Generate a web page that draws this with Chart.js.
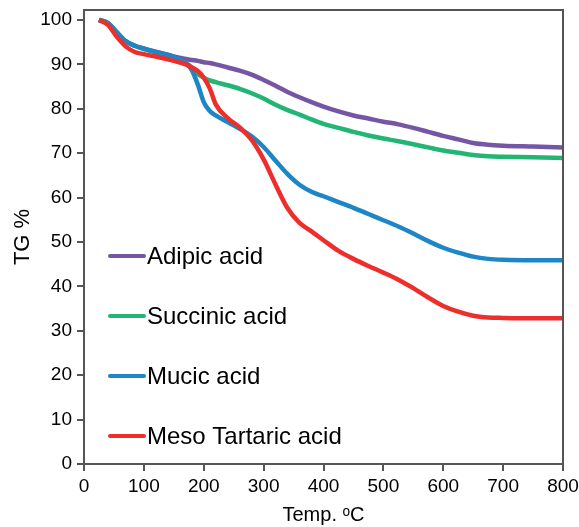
<!DOCTYPE html>
<html>
<head>
<meta charset="utf-8">
<script src="https://cdn.jsdelivr.net/npm/chart.js@4/dist/chart.umd.min.js"></script>
<style>
  html, body { margin: 0; padding: 0; background: #fff; }
  #wrap { width: 579px; height: 527px; position: relative; }
</style>
</head>
<body>
<div id="wrap"><canvas id="c" width="579" height="527"></canvas></div>
<script>
const temps = [25, 40, 55, 70, 85, 100, 125, 150, 170, 180, 190, 200, 210, 220, 240, 260, 280, 300, 320, 340, 360, 380, 400, 425, 450, 475, 500, 525, 550, 575, 600, 625, 650, 675, 700, 750, 800];

const adipic = [100, 99.3, 97.2, 95.2, 94.2, 93.6, 92.7, 91.8, 91.2, 91.0, 90.8, 90.5, 90.3, 90.0, 89.3, 88.6, 87.7, 86.5, 85.2, 83.8, 82.6, 81.5, 80.5, 79.4, 78.5, 77.8, 77.1, 76.5, 75.7, 74.8, 73.9, 73.1, 72.3, 71.9, 71.7, 71.5, 71.3];
const succinic = [100, 99.3, 97.2, 95.2, 94.2, 93.5, 92.5, 91.5, 90.3, 89.3, 87.8, 87.0, 86.4, 86.0, 85.3, 84.5, 83.5, 82.3, 80.9, 79.7, 78.7, 77.6, 76.6, 75.7, 74.8, 74.0, 73.3, 72.7, 72.0, 71.3, 70.6, 70.1, 69.6, 69.3, 69.2, 69.1, 68.9];
const mucic = [100, 99.3, 97.2, 95.2, 94.2, 93.5, 92.6, 91.7, 90.3, 88.7, 85.5, 81.5, 79.5, 78.5, 77.0, 75.5, 73.8, 71.4, 68.3, 65.3, 62.9, 61.3, 60.3, 59.0, 57.7, 56.3, 54.9, 53.5, 51.9, 50.2, 48.7, 47.6, 46.7, 46.2, 46.0, 45.9, 45.9];
const mesoTartaric = [100, 98.9, 96.2, 94.0, 92.8, 92.3, 91.6, 90.8, 90.0, 89.3, 88.5, 87.0, 84.6, 81.0, 77.9, 75.8, 73.0, 68.6, 62.9, 57.6, 54.3, 52.4, 50.4, 48.0, 46.2, 44.6, 43.1, 41.5, 39.6, 37.5, 35.6, 34.3, 33.4, 33.0, 32.9, 32.8, 32.8];

const seriesLabels = ["Adipic acid", "Succinic acid", "Mucic acid", "Meso Tartaric acid"];
const seriesColors = ["#7556A5", "#22B573", "#1C86C6", "#EE2E2A"];
const seriesValues = [adipic, succinic, mucic, mesoTartaric];

const xTicks = [0, 100, 200, 300, 400, 500, 600, 700, 800];
const yTicks = [0, 10, 20, 30, 40, 50, 60, 70, 80, 90, 100];

const FONT = "'Liberation Sans', Arial, sans-serif";

const datasets = seriesValues.map((vals, i) => ({
  label: seriesLabels[i],
  data: temps.map((t, k) => ({ x: t, y: vals[k] })),
  borderColor: seriesColors[i],
  backgroundColor: seriesColors[i],
  borderWidth: 4.5,
  pointRadius: 0,
  cubicInterpolationMode: 'monotone',
  fill: false,
  order: seriesValues.length - 1 - i
}));

const boxPlugin = {
  id: 'box',
  afterDatasetsDraw(chart) {
    const a = chart.chartArea, ctx = chart.ctx;
    ctx.save();
    ctx.strokeStyle = '#555';
    ctx.lineWidth = 2;
    ctx.beginPath();
    ctx.moveTo(a.left, a.top);
    ctx.lineTo(a.right, a.top);
    ctx.lineTo(a.right, a.bottom);
    ctx.stroke();
    ctx.restore();
  }
};

const legendPlugin = {
  id: 'inlegend',
  afterDraw(chart) {
    const ctx = chart.ctx;
    ctx.save();
    ctx.font = '24px ' + FONT;
    ctx.textBaseline = 'middle';
    ctx.textAlign = 'left';
    seriesLabels.forEach((label, i) => {
      const y = 256 + i * 60;
      ctx.strokeStyle = seriesColors[i];
      ctx.lineWidth = 4;
      ctx.lineCap = 'round';
      ctx.beginPath();
      ctx.moveTo(110, y);
      ctx.lineTo(144, y);
      ctx.stroke();
      ctx.fillStyle = '#000';
      ctx.fillText(label, 147, y + 1);
    });
    ctx.restore();
  }
};

new Chart(document.getElementById('c'), {
  type: 'line',
  data: { datasets },
  plugins: [boxPlugin, legendPlugin],
  options: {
    responsive: false,
    animation: false,
    devicePixelRatio: 1,
    layout: { padding: { left: 0, right: 16, top: 10, bottom: 0 } },
    plugins: { legend: { display: false }, tooltip: { enabled: false } },
    scales: {
      x: {
        type: 'linear',
        min: 0, max: 800,
        afterBuildTicks(s) { s.ticks = xTicks.map(v => ({ value: v })); },
        afterFit(s) { s.height = 63; s.paddingLeft = 0; s.paddingRight = 0; },
        grid: { drawOnChartArea: false, drawTicks: true, tickLength: 7, color: '#555', lineWidth: 2 },
        border: { display: true, color: '#555', width: 2 },
        ticks: { color: '#000', font: { family: FONT, size: 19 }, padding: 4, maxRotation: 0 },
        title: { display: true, text: 'Temp. ᵒC', color: '#000', font: { family: FONT, size: 20 }, padding: { top: 0, bottom: 0 } }
      },
      y: {
        min: 0, max: 102.25,
        afterBuildTicks(s) { s.ticks = yTicks.map(v => ({ value: v })); },
        afterFit(s) { s.width = 84; s.paddingTop = 0; s.paddingBottom = 0; },
        grid: { drawOnChartArea: false, drawTicks: true, tickLength: 7, color: '#555', lineWidth: 2 },
        border: { display: true, color: '#555', width: 2 },
        ticks: { color: '#000', font: { family: FONT, size: 19 }, padding: 5 },
        title: { display: true, text: 'TG %', color: '#000', font: { family: FONT, size: 22 }, padding: { top: 10, bottom: 0 } }
      }
    }
  }
});
</script>
</body>
</html>
